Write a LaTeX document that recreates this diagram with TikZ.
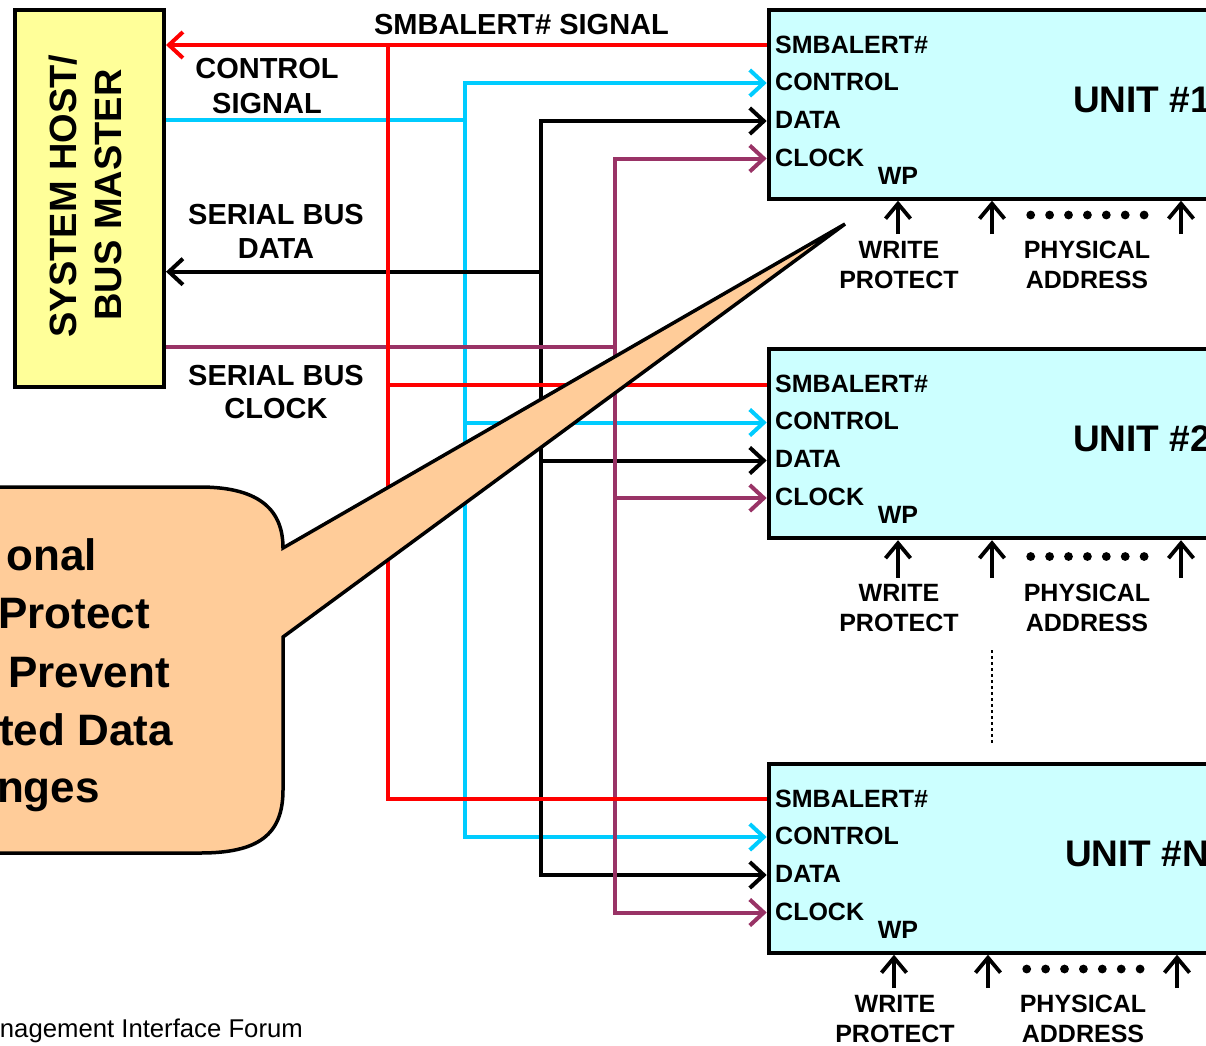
\documentclass[tikz,border=0pt]{standalone}
\usepackage{fontspec}
\setmainfont{Liberation Sans}
\usetikzlibrary{arrows.meta}
\definecolor{smbred}{HTML}{FF0000}
\definecolor{ctlcyan}{HTML}{00CCFF}
\definecolor{clkpurple}{HTML}{993366}
\definecolor{hostfill}{HTML}{FFFF99}
\definecolor{unitfill}{HTML}{CCFFFF}
\definecolor{calloutfill}{HTML}{FFCC99}
\tikzset{
 sig/.style={line width=4pt},
 tipend/.style={-{Straight Barb[length=14pt,width=26pt]}},
 tipboth/.style={{Straight Barb[length=14pt,width=26pt]}-{Straight Barb[length=14pt,width=26pt]}},
 pinarrow/.style={line width=3.8pt,-{Straight Barb[length=15pt,width=25pt]}},
 boxstyle/.style={draw,line width=4pt,inner sep=0pt},
 hostbox/.style={boxstyle,fill=hostfill,minimum width=148.7pt,minimum height=377.3pt},
 unitbox/.style={boxstyle,fill=unitfill,minimum width=500pt,minimum height=189pt},
 lbl/.style={inner sep=0pt,font=\fontsize{29}{34}\selectfont\bfseries},
 pinlbl/.style={inner sep=0pt,font=\fontsize{25}{30}\selectfont\bfseries},
 unitlbl/.style={inner sep=0pt,font=\fontsize{37}{44}\selectfont\bfseries},
 hostlbl/.style={inner sep=0pt,rotate=90,font=\fontsize{38}{45}\selectfont\bfseries},
 calllbl/.style={inner sep=0pt,font=\fontsize{44}{58}\selectfont\bfseries},
 footlbl/.style={inner sep=0pt,font=\fontsize{25.7}{30}\selectfont},
 callout/.style={draw,line width=3.5pt,fill=calloutfill,line join=miter},
}
\begin{document}
\begin{tikzpicture}[x=1pt,y=-1pt]
\path[use as bounding box] (0,0) rectangle (1206,1045);
\clip (0,0) rectangle (1206,1045);

% host
\node[hostbox,anchor=north west] (host) at (13.3,7.7) {};
\node[hostlbl,anchor=base] (hostA) at (76.5,196) {SYSTEM HOST/};
\node[hostlbl,anchor=base] (hostB) at (121,195) {BUS MASTER};

% units
\foreach \n/\off/\name/\lx/\ld/\bx in {1/0/UNIT \#1/1073/0/0, 2/339.5/UNIT \#2/1073/4/0, N/754/UNIT \#N/1065/0/-4}{
  \node[unitbox,anchor=north west] (u\n) at (766.7,{7.7+\off}) {};
  \coordinate (u\n-smb) at (766.7,{45+\off});
  \coordinate (u\n-ctl) at (766.7,{83+\off});
  \coordinate (u\n-dat) at (766.7,{121+\off});
  \coordinate (u\n-clk) at (766.7,{158.5+\off});
  \node[pinlbl,anchor=base west] (u\n-l1) at (775,{53+\off}) {SMBALERT\#};
  \node[pinlbl,anchor=base west] (u\n-l2) at (775,{90+\off}) {CONTROL};
  \node[pinlbl,anchor=base west] (u\n-l3) at (775,{128+\off}) {DATA};
  \node[pinlbl,anchor=base west] (u\n-l4) at (775,{166+\off}) {CLOCK};
  \node[pinlbl,anchor=base] (u\n-wp) at (898,{184+\off}) {WP};
  \node[unitlbl,anchor=base west] (u\n-name) at (\lx,{112+\off}) {\name};
  \coordinate (u\n-pa) at ({898+\bx},{234+\off+\ld});
  \coordinate (u\n-pb) at ({992+\bx},{234+\off+\ld});
  \coordinate (u\n-pc) at ({1181+\bx},{234+\off+\ld});
  \draw[pinarrow] (u\n-pa) -- (u\n-pa |- u\n.south);
  \draw[pinarrow] (u\n-pb) -- (u\n-pb |- u\n.south);
  \draw[pinarrow] (u\n-pc) -- (u\n-pc |- u\n.south);
  \foreach \k in {0,...,6}{
    \fill ({1030.7+\bx+18.9*\k},{215+\off+\ld/2}) circle (4.4pt);
  }
  \node[pinlbl,anchor=base] (u\n-w1) at ({899+\bx},{258+\off+\ld}) {WRITE};
  \node[pinlbl,anchor=base] (u\n-w2) at ({899+\bx},{288+\off+\ld}) {PROTECT};
  \node[pinlbl,anchor=base] (u\n-a1) at ({1087+\bx},{258+\off+\ld}) {PHYSICAL};
  \node[pinlbl,anchor=base] (u\n-a2) at ({1087+\bx},{288+\off+\ld}) {ADDRESS};
}

% dotted continuation
\coordinate (dotA) at (992,650);
\coordinate (dotB) at (992,743);
\draw[line width=2.5pt,dash pattern=on 3pt off 3pt] (dotA) -- (dotB);

% host side coordinates
\coordinate (hostS) at (host.east |- 0,45);
\coordinate (hostC) at (host.east |- 0,120);
\coordinate (hostD) at (host.east |- 0,271.7);
\coordinate (hostK) at (host.east |- 0,346.7);
\coordinate (busR) at (388.3,45);
\coordinate (busC) at (465,83);
\coordinate (busD) at (541,121);
\coordinate (busK) at (615,158.5);

% cyan control
\draw[sig,ctlcyan] (hostC) -- (busC |- hostC);
\draw[sig,ctlcyan,tipboth] (u1-ctl) -- (busC |- u1-ctl) -- (busC |- uN-ctl) -- (uN-ctl);
\draw[sig,ctlcyan,tipend] (busC |- u2-ctl) -- (u2-ctl);
% black data
\draw[sig,black,tipend] (busD |- hostD) -- (hostD);
\draw[sig,black,tipboth] (u1-dat) -- (busD |- u1-dat) -- (busD |- uN-dat) -- (uN-dat);
\draw[sig,black,tipend] (busD |- u2-dat) -- (u2-dat);
% purple clock
\draw[sig,clkpurple] (hostK) -- (busK |- hostK);
\draw[sig,clkpurple,tipboth] (u1-clk) -- (busK |- u1-clk) -- (busK |- uN-clk) -- (uN-clk);
\draw[sig,clkpurple,tipend] (busK |- u2-clk) -- (u2-clk);
% red smbalert
\draw[sig,smbred,tipend] (u1-smb) -- (hostS);
\draw[sig,smbred] (busR) -- (busR |- uN-smb) -- (uN-smb);
\draw[sig,smbred] (busR |- u2-smb) -- (u2-smb);

% left labels
\node[lbl,anchor=base] (lsmb) at (521.5,34.4) {SMBALERT\# SIGNAL};
\node[lbl,anchor=base] (lc1) at (267,78.4) {CONTROL};
\node[lbl,anchor=base] (lc2) at (267,113.4) {SIGNAL};
\node[lbl,anchor=base] (ld1) at (276,224.4) {SERIAL BUS};
\node[lbl,anchor=base] (ld2) at (276,258.4) {DATA};
\node[lbl,anchor=base] (lk1) at (276,385.4) {SERIAL BUS};
\node[lbl,anchor=base] (lk2) at (276,418.4) {CLOCK};

% callout
\draw[callout] (-30,487) -- (200,487) .. controls (262,487) and (283,512) .. (283,548)
  -- (845,224) -- (283,637) -- (283,790) .. controls (283,835) and (258,853) .. (200,853)
  -- (-30,853) -- cycle;
\node[calllbl,anchor=base east] (c1) at (97,570) {onal};
\node[calllbl,anchor=base east] (c2) at (150,628) {Protect};
\node[calllbl,anchor=base east] (c3) at (170,687) {Prevent};
\node[calllbl,anchor=base east] (c4) at (173,745) {ted Data};
\node[calllbl,anchor=base east] (c5) at (100,802) {nges};

% footer
\node[footlbl,anchor=base east] (foot) at (303,1037) {nagement Interface Forum};
\end{tikzpicture}
\end{document}
